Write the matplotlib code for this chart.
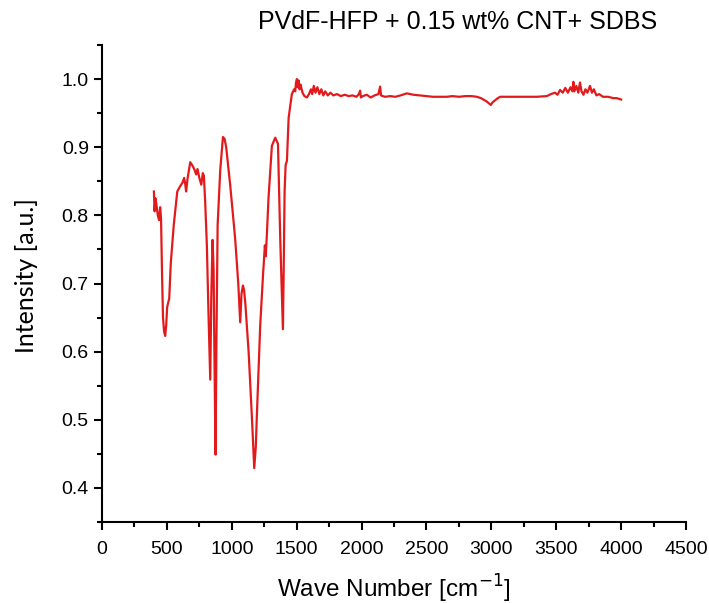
import matplotlib
matplotlib.use("Agg")
import matplotlib.pyplot as plt
from matplotlib.ticker import MultipleLocator

plt.rcParams['font.family'] = ['Liberation Sans', 'DejaVu Sans']

# FTIR spectrum
wave_number = [400, 405, 412, 420, 430, 440, 448, 455, 462, 470, 478, 487, 495, 502, 510, 518,
               530, 553, 580, 600, 620, 633, 642, 648, 660, 680, 700, 715, 725, 736, 750, 765,
               777, 785, 795, 808, 820, 834, 842, 852, 860, 866, 875, 882, 891, 911, 932, 945,
               957, 988, 1026, 1050, 1065, 1075, 1086, 1095, 1104, 1130, 1156, 1173, 1185, 1194,
               1219, 1240, 1255, 1262, 1270, 1283, 1309, 1335, 1356, 1374, 1386, 1394, 1400, 1407,
               1415, 1425, 1438, 1463, 1480, 1489, 1495, 1502, 1508, 1515, 1522, 1530, 1545, 1560,
               1579, 1595, 1610, 1620, 1632, 1645, 1660, 1675, 1690, 1705, 1720, 1740, 1760, 1783,
               1810, 1840, 1870, 1900, 1930, 1960, 1980, 1989, 1995, 2010, 2040, 2070, 2100, 2130,
               2143, 2150, 2180, 2220, 2260, 2300, 2348, 2400, 2450, 2500, 2550, 2600, 2657, 2700,
               2750, 2800, 2850, 2888, 2920, 2939, 2965, 2996, 3010, 3030, 3050, 3068, 3150, 3250,
               3350, 3427, 3460, 3490, 3510, 3530, 3550, 3570, 3590, 3610, 3625, 3632, 3640, 3655,
               3670, 3683, 3695, 3710, 3725, 3740, 3760, 3775, 3790, 3810, 3830, 3860, 3900, 3940,
               3966, 4000]
intensity = [0.835, 0.806, 0.825, 0.815, 0.800, 0.793, 0.812, 0.795, 0.720, 0.650, 0.630, 0.623,
             0.640, 0.665, 0.672, 0.678, 0.730, 0.786, 0.835, 0.842, 0.848, 0.855, 0.845, 0.835,
             0.855, 0.878, 0.872, 0.866, 0.860, 0.868, 0.855, 0.845, 0.862, 0.858, 0.820, 0.756,
             0.660, 0.559, 0.680, 0.764, 0.720, 0.600, 0.449, 0.620, 0.786, 0.866, 0.915, 0.912,
             0.900, 0.844, 0.766, 0.700, 0.643, 0.685, 0.697, 0.690, 0.672, 0.599, 0.500, 0.429,
             0.460, 0.510, 0.638, 0.710, 0.756, 0.740, 0.770, 0.825, 0.902, 0.914, 0.905, 0.761,
             0.687, 0.633, 0.720, 0.835, 0.874, 0.880, 0.943, 0.978, 0.985, 0.982, 0.995, 1.000,
             0.988, 0.998, 0.985, 0.992, 0.980, 0.975, 0.973, 0.978, 0.985, 0.978, 0.990, 0.980,
             0.988, 0.978, 0.985, 0.976, 0.982, 0.976, 0.980, 0.976, 0.978, 0.975, 0.977, 0.975,
             0.976, 0.974, 0.978, 0.983, 0.973, 0.975, 0.977, 0.973, 0.976, 0.978, 0.989, 0.976,
             0.974, 0.975, 0.974, 0.976, 0.979, 0.977, 0.976, 0.975, 0.974, 0.974, 0.974, 0.975,
             0.974, 0.975, 0.975, 0.974, 0.972, 0.970, 0.967, 0.962, 0.966, 0.969, 0.972, 0.974,
             0.974, 0.974, 0.974, 0.975, 0.978, 0.980, 0.977, 0.984, 0.980, 0.987, 0.980, 0.988,
             0.982, 0.996, 0.982, 0.990, 0.980, 0.995, 0.982, 0.977, 0.985, 0.980, 0.990, 0.980,
             0.985, 0.976, 0.978, 0.974, 0.974, 0.972, 0.972, 0.970]

fig = plt.figure(figsize=(7.09, 6.03), dpi=100)
ax = fig.add_axes([102 / 709, 81 / 603, 584 / 709, 477 / 603])
ax.plot(wave_number, intensity, color='#e31a1c', linewidth=1.6)

ax.set_xlim(0, 4500)
ax.set_ylim(0.35, 1.05)
ax.xaxis.set_major_locator(MultipleLocator(500))
ax.xaxis.set_minor_locator(MultipleLocator(250))
ax.yaxis.set_major_locator(MultipleLocator(0.1))
ax.yaxis.set_minor_locator(MultipleLocator(0.05))
ax.tick_params(which='major', direction='out', length=6, width=1.5, labelsize=14)
ax.tick_params(which='minor', direction='out', length=3.5, width=1.5)
ax.tick_params(axis='x', which='major', pad=8)
ax.spines['top'].set_visible(False)
ax.spines['right'].set_visible(False)
ax.spines['left'].set_linewidth(1.5)
ax.spines['bottom'].set_linewidth(1.5)

ax.set_xlabel('Wave Number [cm$^{-1}$]', fontsize=17.5, labelpad=10)
ax.set_ylabel('Intensity [a.u.]', fontsize=18, family=['Lato', 'DejaVu Sans'])
ax.yaxis.label.set_va('center')
ax.yaxis.set_label_coords(-0.130, 0.516)
fig.text(458 / 709, 1 - 22 / 603, 'PVdF-HFP + 0.15 wt% CNT+ SDBS', fontsize=18,
         ha='center', va='center')

fig.savefig('out.png', dpi=100)
